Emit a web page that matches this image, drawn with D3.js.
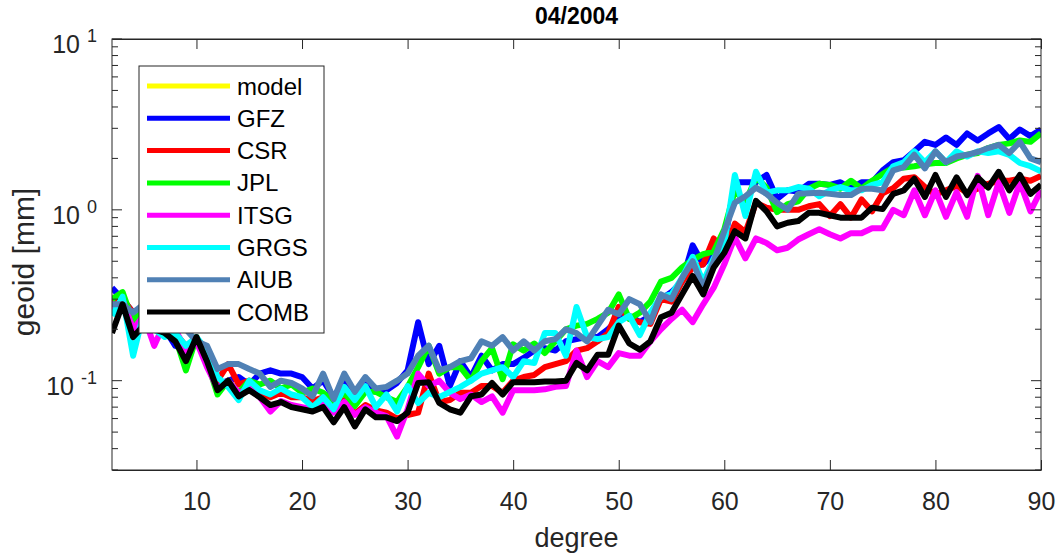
<!DOCTYPE html>
<meta charset="utf-8">
<script src="https://d3js.org/d3.v7.min.js"></script>
<style>
  body { margin: 0; background: #fff; }
  svg { font-family: "Liberation Sans", Arial, sans-serif; }
</style>
<div id="chart"></div>
<script>

// spherical harmonic degree
var degree = d3.range(2, 91);

// degree amplitudes [mm] (d = 2 ... 90)
var model = [];   // model curve is not visible in this month
var gfz = [0.35,0.3,0.25,0.27,0.23,0.2,0.16,0.15,0.17,0.13,
  0.095,0.1,0.105,0.095,0.11,0.115,0.11,0.11,0.105,0.09,
  0.1,0.08,0.1,0.085,0.1,0.086,0.088,0.097,0.115,0.22,
  0.125,0.16,0.093,0.13,0.105,0.14,0.115,0.125,0.125,0.136,
  0.15,0.155,0.15,0.17,0.175,0.18,0.18,0.2,0.23,0.24,
  0.22,0.24,0.3,0.33,0.38,0.62,0.48,0.56,0.63,1.45,
  1.45,1.45,1.6,1.16,1.3,1.28,1.42,1.42,1.4,1.45,
  1.33,1.45,1.45,1.7,1.9,1.95,2.2,2.5,2.4,2.65,
  2.4,2.8,2.55,2.8,3.05,2.6,2.95,2.7,2.95];
var csr = [0.29,0.3,0.25,0.26,0.22,0.2,0.19,0.16,0.17,0.15,
  0.1,0.125,0.095,0.1,0.085,0.08,0.085,0.08,0.08,0.076,
  0.08,0.067,0.077,0.064,0.072,0.067,0.065,0.06,0.063,0.065,
  0.11,0.075,0.077,0.085,0.085,0.093,0.093,0.085,0.1,0.105,
  0.108,0.12,0.125,0.13,0.15,0.155,0.17,0.19,0.27,0.23,
  0.22,0.215,0.3,0.29,0.38,0.46,0.48,0.68,0.56,0.83,
  0.74,1.1,1.03,1.0,1.0,1.0,1.05,1.08,0.92,1.08,
  0.9,1.15,0.98,1.25,1.34,1.52,1.55,1.36,1.23,1.3,
  1.38,1.26,1.33,1.42,1.48,1.48,1.52,1.48,1.58];
var jpl = [0.3,0.33,0.22,0.28,0.24,0.2,0.18,0.115,0.18,0.13,
  0.083,0.1,0.085,0.1,0.095,0.1,0.09,0.095,0.085,0.09,
  0.085,0.075,0.085,0.071,0.086,0.086,0.08,0.075,0.092,0.12,
  0.16,0.11,0.12,0.12,0.1,0.13,0.155,0.102,0.163,0.15,
  0.165,0.145,0.17,0.2,0.21,0.215,0.23,0.25,0.32,0.23,
  0.25,0.29,0.38,0.4,0.46,0.51,0.55,0.57,0.77,1.3,
  1.1,1.55,1.35,0.97,1.08,1.12,1.33,1.42,1.4,1.33,
  1.48,1.33,1.48,1.62,1.77,1.77,1.8,1.85,1.88,1.88,
  2.0,2.1,2.15,2.3,2.4,2.45,2.55,2.5,2.8];
var itsg = [0.25,0.3,0.2,0.24,0.16,0.22,0.2,0.15,0.17,0.12,
  0.09,0.1,0.085,0.09,0.08,0.066,0.076,0.072,0.07,0.068,
  0.075,0.065,0.075,0.063,0.07,0.065,0.062,0.047,0.068,0.11,
  0.093,0.1,0.085,0.078,0.083,0.075,0.081,0.065,0.088,0.088,
  0.088,0.089,0.092,0.093,0.15,0.105,0.13,0.12,0.145,0.14,
  0.14,0.17,0.2,0.23,0.26,0.22,0.28,0.35,0.48,0.69,
  0.52,0.68,0.64,0.58,0.6,0.67,0.72,0.77,0.72,0.68,
  0.73,0.73,0.78,0.78,1.0,0.93,1.3,0.93,1.3,0.91,
  1.27,0.91,1.58,0.93,1.45,0.96,1.45,0.98,1.3];
var grgs = [0.24,0.31,0.14,0.25,0.2,0.18,0.19,0.16,0.18,0.15,
  0.105,0.092,0.077,0.1,0.088,0.083,0.09,0.083,0.08,0.07,
  0.08,0.068,0.092,0.077,0.093,0.07,0.083,0.066,0.093,0.074,
  0.085,0.08,0.086,0.092,0.1,0.11,0.115,0.12,0.105,0.13,
  0.127,0.19,0.19,0.14,0.27,0.18,0.175,0.18,0.22,0.24,
  0.185,0.25,0.31,0.32,0.4,0.53,0.38,0.52,0.63,1.6,
  0.92,1.67,1.26,1.3,1.3,1.36,1.33,1.2,1.3,1.36,
  1.3,1.3,1.4,1.45,1.8,1.9,2.2,1.9,2.2,1.9,
  2.2,2.05,2.2,2.15,2.2,2.1,1.88,1.8,1.68];
var aiub = [0.28,0.28,0.25,0.28,0.26,0.24,0.22,0.2,0.17,0.16,
  0.117,0.125,0.125,0.117,0.11,0.092,0.1,0.097,0.09,0.081,
  0.11,0.078,0.11,0.086,0.105,0.09,0.092,0.1,0.11,0.14,
  0.16,0.115,0.12,0.13,0.135,0.17,0.16,0.18,0.15,0.17,
  0.15,0.17,0.175,0.2,0.19,0.17,0.21,0.26,0.245,0.3,
  0.28,0.22,0.32,0.3,0.4,0.5,0.35,0.5,0.75,1.1,
  1.2,1.35,1.24,1.1,1.0,1.24,1.25,1.26,1.24,1.22,
  1.22,1.33,1.33,1.3,1.7,1.78,2.1,1.75,2.2,1.9,
  2.05,2.1,2.18,2.3,2.4,2.15,2.5,2.0,1.9];
var comb = [0.19,0.28,0.18,0.21,0.2,0.19,0.17,0.13,0.18,0.13,
  0.088,0.1,0.081,0.088,0.08,0.072,0.075,0.07,0.068,0.066,
  0.07,0.057,0.07,0.054,0.068,0.061,0.061,0.058,0.065,0.097,
  0.098,0.074,0.068,0.065,0.081,0.083,0.097,0.083,0.098,0.098,
  0.098,0.099,0.099,0.1,0.127,0.115,0.142,0.142,0.21,0.165,
  0.152,0.17,0.235,0.25,0.32,0.41,0.32,0.46,0.56,0.75,
  0.68,1.13,0.98,0.8,0.84,0.86,0.96,0.96,0.93,0.9,
  0.9,0.9,1.03,1.01,1.24,1.3,1.52,1.19,1.6,1.19,
  1.55,1.22,1.55,1.35,1.67,1.3,1.6,1.24,1.4];

var names = ["model", "GFZ", "CSR", "JPL", "ITSG", "GRGS", "AIUB", "COMB"];
var colors = ["#ffff00", "#0000ff", "#ff0000", "#00ff00", "#ff00ff", "#00ffff", "#5081b5", "#000000"];
var series = [model, gfz, csr, jpl, itsg, grgs, aiub, comb];

var xTicks = [10, 20, 30, 40, 50, 60, 70, 80, 90];
var yMajor = [0.1, 1, 10];
var yExp = ["-1", "0", "1"];
var yMinor = [0.03, 0.04, 0.05, 0.06, 0.07, 0.08, 0.09,
              0.2, 0.3, 0.4, 0.5, 0.6, 0.7, 0.8, 0.9,
              2, 3, 4, 5, 6, 7, 8, 9];

// set the dimensions and margins of the graph
var margin = {top: 39, right: 15, bottom: 86, left: 112},
    width = 1056 - margin.left - margin.right,
    height = 556 - margin.top - margin.bottom;

var axisColor = "#262626";

var svg = d3.select("#chart")
  .append("svg")
    .attr("width", 1056)
    .attr("height", 556)
  .append("g")
    .attr("transform", "translate(" + margin.left + "," + margin.top + ")");

var x = d3.scaleLinear().domain([2, 90]).range([0, width]);
var y = d3.scaleLog().domain([0.03, 10]).range([height, 0]);

svg.append("clipPath").attr("id", "clip")
  .append("rect").attr("width", width).attr("height", height);

// lines
var line = d3.line()
  .defined(function(d) { return d.v != null; })
  .x(function(d) { return x(d.x); })
  .y(function(d) { return y(d.v); });

svg.append("g").attr("clip-path", "url(#clip)")
  .selectAll("path")
  .data(series)
  .enter()
  .append("path")
    .attr("fill", "none")
    .attr("stroke", function(d, i) { return colors[i]; })
    .attr("stroke-width", 6)
    .attr("stroke-linejoin", "round")
    .attr("d", function(s) {
      return line(degree.map(function(d, i) { return {x: d, v: s[i]}; }));
    });

// X axis (ticks pointing inward, also on top)
var xAxis = svg.append("g")
  .attr("transform", "translate(0," + height + ")")
  .call(d3.axisBottom(x).tickValues(xTicks).tickSizeInner(-10).tickSizeOuter(0).tickPadding(22));
xAxis.selectAll("text").attr("font-size", "25px").attr("fill", axisColor).attr("font-family", "Liberation Sans, Arial, sans-serif");

svg.append("g")
  .call(d3.axisTop(x).tickValues(xTicks).tickSizeInner(-10).tickSizeOuter(0).tickFormat(""));

// Y axis major + minor ticks, left and right
function yTicks(g, vals, len) {
  vals.forEach(function(v) {
    g.append("line").attr("x1", 0).attr("x2", len).attr("y1", y(v)).attr("y2", y(v));
    g.append("line").attr("x1", width).attr("x2", width - len).attr("y1", y(v)).attr("y2", y(v));
  });
}
var yt = svg.append("g").attr("stroke", axisColor).attr("stroke-width", 1);
yTicks(yt, yMajor, 10);
yTicks(yt, yMinor, 6);

// y tick labels 10^k
yMajor.forEach(function(v, i) {
  var t = svg.append("text")
    .attr("x", -15)
    .attr("y", y(v) + 14)
    .attr("text-anchor", "end")
    .attr("fill", axisColor)
    .attr("font-size", "25px");
  t.append("tspan").text("10");
  t.append("tspan").attr("dx", 7).attr("dy", -11).attr("font-size", "18px").text(yExp[i]);
});

// frame
svg.selectAll(".domain").attr("stroke", axisColor);
svg.selectAll(".tick line").attr("stroke", axisColor);
svg.append("rect")
  .attr("width", width).attr("height", height)
  .attr("fill", "none").attr("stroke", axisColor).attr("stroke-width", 1);

// labels and title
svg.append("text")
  .attr("x", width / 2).attr("y", height + 77)
  .attr("text-anchor", "middle").attr("fill", axisColor)
  .attr("font-size", "27px").text("degree");

svg.append("text")
  .attr("transform", "translate(" + (34 - margin.left) + "," + (262 - margin.top) + ") rotate(-90)")
  .attr("text-anchor", "middle").attr("fill", axisColor)
  .attr("font-size", "30px").text("geoid [mm]");

svg.append("text")
  .attr("x", width / 2).attr("y", 24 - margin.top)
  .attr("text-anchor", "middle").attr("fill", "#000")
  .attr("font-weight", "bold").attr("font-size", "23px").text("04/2004");

// legend
var legend = svg.append("g").attr("transform", "translate(" + (139 - margin.left) + "," + (66 - margin.top) + ")");
legend.append("rect")
  .attr("width", 185).attr("height", 267)
  .attr("fill", "#fff").attr("stroke", axisColor).attr("stroke-width", 1);

var items = legend.selectAll(".item")
  .data(names)
  .enter()
  .append("g")
    .attr("transform", function(d, i) { return "translate(0," + (20 + i * 32.3) + ")"; });
items.append("line")
  .attr("x1", 8).attr("x2", 91)
  .attr("stroke", function(d, i) { return colors[i]; })
  .attr("stroke-width", 5);
items.append("text")
  .attr("x", 98).attr("y", 8.5)
  .attr("font-size", "24px").attr("fill", "#000")
  .text(function(d) { return d; });

</script>
